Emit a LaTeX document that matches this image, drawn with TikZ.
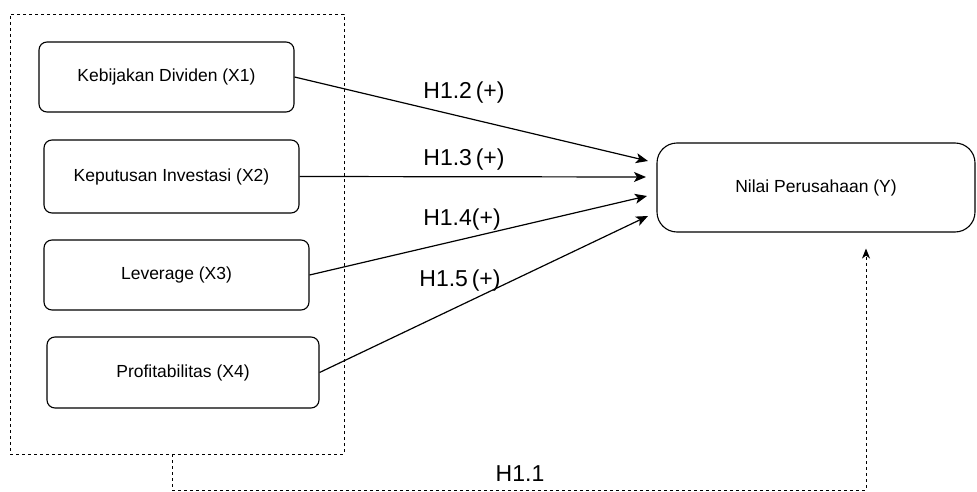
\documentclass[tikz,border=0pt]{standalone}
\usepackage{fontspec}
\setmainfont{Liberation Sans}
\usetikzlibrary{arrows.meta,calc}
\begin{document}
\begin{tikzpicture}[x=1pt,y=-1pt,
  var/.style={draw,line width=1.1pt,rounded corners=8pt,inner sep=0pt,font=\fontsize{17.5}{20}\selectfont},
  grpbox/.style={draw,dashed,dash pattern=on 3pt off 3pt,line width=0.9pt,inner sep=0pt},
  link/.style={line width=1.2pt,-{Stealth[length=12pt,width=10pt,inset=3pt]}},
  hyp/.style={font=\fontsize{23}{26}\selectfont,inner sep=0pt}]
\useasboundingbox (0,0) rectangle (977,492);
% framework group
\node[grpbox,minimum width=334pt,minimum height=440pt] (grp) at (177,234) {};
% independent variables
\node[var,minimum width=255pt,minimum height=70pt] (x1) at (166.5,77) {Kebijakan Dividen (X1)};
\node[var,minimum width=255pt,minimum height=73pt] (x2) at (171.5,176.5) {Keputusan Investasi (X2)};
\node[var,minimum width=265pt,minimum height=70pt] (x3) at (176.5,275) {Leverage (X3)};
\node[var,minimum width=272pt,minimum height=71pt] (x4) at (183,372.5) {Profitabilitas (X4)};
% dependent variable
\node[var,rounded corners=20pt,minimum width=318pt,minimum height=89pt] (y) at (816,187.5) {Nilai Perusahaan (Y)};
% arrow ends in front of the dependent variable
\coordinate (t1) at (648,161);
\coordinate (t2) at (646,177);
\coordinate (t3) at (647,196);
\coordinate (t4) at (648,216);
\draw[link] (x1.east) -- (t1);
\draw[link] (x2.east) -- (t2);
\draw[link] (x3.east) -- (t3);
\draw[link] (x4.east) -- (t4);
% hypothesis labels
\node[hyp] (h12) at (464,93) {H1.2\,(+)};
\node[hyp] (h13) at (464,160) {H1.3\,(+)};
\node[hyp] (h14) at (462,220) {H1.4(+)};
\node[hyp] (h15) at (460,281) {H1.5\,(+)};
% simultaneous effect
\coordinate (b0) at (172,490);
\coordinate (b1) at (866,490);
\draw[dashed,dash pattern=on 3pt off 3pt,line width=0.9pt,-{Stealth[length=10pt,width=8pt,inset=3pt]},shorten >=16pt]
  (grp.south -| b0) -- (b0) -- (b1) -- (y.south -| b1);
\node[hyp] (h11) at (520,474) {H1.1};
\end{tikzpicture}
\end{document}
